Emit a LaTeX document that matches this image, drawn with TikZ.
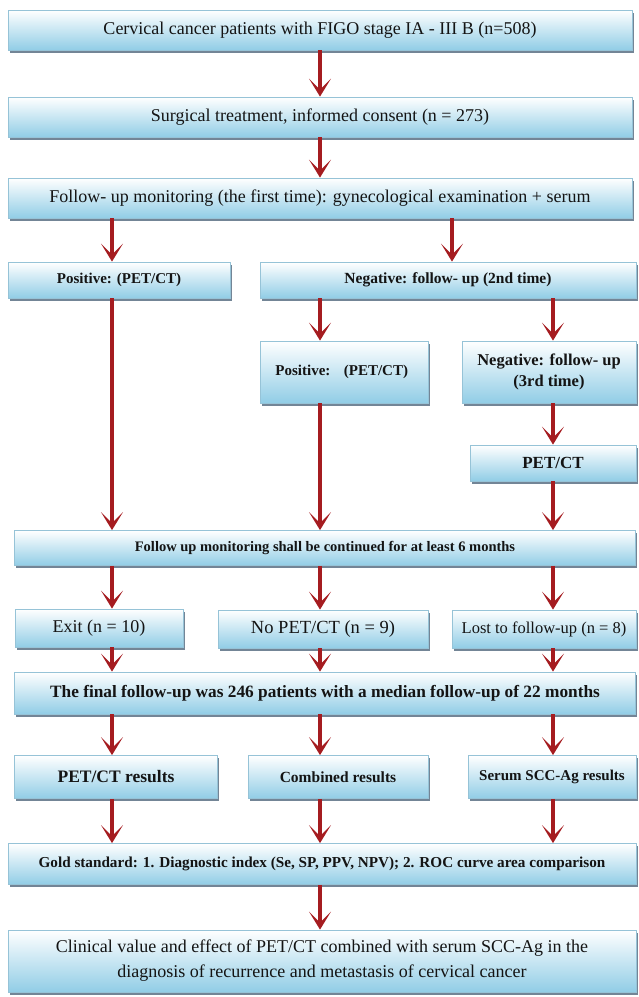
\documentclass[tikz,border=0pt]{standalone}
\usepackage{fontspec}
\setmainfont{Liberation Serif}
\usetikzlibrary{arrows.meta,shadows}
\definecolor{boxblue}{RGB}{145,205,230}
\definecolor{boxline}{RGB}{150,195,215}
\definecolor{boxshade}{RGB}{90,112,132}
\definecolor{arrowred}{RGB}{165,28,32}
\definecolor{textdark}{RGB}{20,20,20}
\tikzset{
  flowbox/.style={draw=boxline, line width=0.8pt, top color=white, bottom color=boxblue,
    text=textdark, align=center, inner sep=2pt,
    drop shadow={shadow xshift=1.5pt, shadow yshift=-2.5pt, fill=boxshade, opacity=0.85}},
  flowarrow/.style={draw=arrowred, line width=4.5pt,
    -{Stealth[length=18pt,width=22pt,inset=11pt]}}
}
\begin{document}
\begin{tikzpicture}[x=1pt,y=-1pt]
\useasboundingbox (0,0) rectangle (638,997);
% arrow columns
\coordinate (colA) at (112,0);
\coordinate (colB) at (320,0);
\coordinate (colC) at (553,0);
\coordinate (colD) at (452,0);

% top part
\node[flowbox, minimum width=624pt, minimum height=40pt, font=\fontsize{18}{20}\selectfont] (start) at (320,30)
  {Cervical cancer patients with FIGO stage IA - III B (n=508)};
\node[flowbox, minimum width=624pt, minimum height=40pt, font=\fontsize{18}{20}\selectfont] (surg) at (320,117)
  {Surgical treatment, informed consent (n = 273)};
\node[flowbox, minimum width=624pt, minimum height=40pt, font=\fontsize{18}{20}\selectfont] (fu1) at (320,198)
  {Follow- up monitoring (the first time): gynecological examination + serum};

% first split
\node[flowbox, minimum width=222pt, minimum height=36pt, font=\bfseries\fontsize{15}{17}\selectfont] (pos1) at (119,280)
  {Positive: (PET/CT)};
\node[flowbox, minimum width=376pt, minimum height=36pt, font=\bfseries\fontsize{15.5}{17}\selectfont] (neg2) at (448,280)
  {Negative: follow- up (2nd time)};
\node[flowbox, minimum width=168pt, minimum height=62pt, font=\bfseries\fontsize{15}{17}\selectfont] (pos2) at (344,372)
  {Positive:\hspace{0.9em}(PET/CT)\hspace{0.3em}};
\node[flowbox, minimum width=174pt, minimum height=62pt, font=\bfseries\fontsize{16.5}{21}\selectfont] (neg3) at (549,372)
  {Negative: follow- up\\(3rd time)};
\node[flowbox, minimum width=166pt, minimum height=36pt, font=\bfseries\fontsize{17}{19}\selectfont] (petct) at (553,463)
  {PET/CT};

% six months
\node[flowbox, minimum width=621pt, minimum height=35pt, font=\bfseries\fontsize{14.5}{16}\selectfont] (fu6) at (325,548)
  {Follow up monitoring shall be continued for at least 6 months};
\node[flowbox, minimum width=168pt, minimum height=38pt, font=\fontsize{18}{20}\selectfont] (exit) at (99,628)
  {Exit (n = 10)};
\node[flowbox, minimum width=210pt, minimum height=38pt, font=\fontsize{18.5}{20}\selectfont] (nopet) at (323,629)
  {No PET/CT (n = 9)};
\node[flowbox, minimum width=184pt, minimum height=38pt, font=\fontsize{16.5}{18}\selectfont] (lost) at (544,629)
  {Lost to follow-up (n = 8)};
\node[flowbox, minimum width=621pt, minimum height=42pt, font=\bfseries\fontsize{17.3}{19}\selectfont] (final) at (325,693)
  {The final follow-up was 246 patients with a median follow-up of 22 months};

% results
\node[flowbox, minimum width=203pt, minimum height=43pt, font=\bfseries\fontsize{17.5}{19}\selectfont] (respet) at (116,777)
  {PET/CT results};
\node[flowbox, minimum width=180pt, minimum height=43pt, font=\bfseries\fontsize{15.5}{17}\selectfont] (comb) at (338,777)
  {Combined results};
\node[flowbox, minimum width=168pt, minimum height=43pt, font=\bfseries\fontsize{15}{17}\selectfont] (serum) at (552,777)
  {Serum SCC-Ag results};
\node[flowbox, minimum width=628pt, minimum height=41pt, font=\bfseries\fontsize{15.2}{17}\selectfont] (gold) at (322,864)
  {Gold standard: 1. Diagnostic index (Se, SP, PPV, NPV); 2. ROC curve area comparison};
\node[flowbox, minimum width=628pt, minimum height=62pt, font=\fontsize{18}{25}\selectfont] (concl) at (322,961)
  {Clinical value and effect of PET/CT combined with serum SCC-Ag in the\\diagnosis of recurrence and metastasis of cervical cancer};

% arrows
\draw[flowarrow] (start.south -| colB) -- (surg.north -| colB);
\draw[flowarrow] (surg.south -| colB) -- (fu1.north -| colB);
\draw[flowarrow] (fu1.south -| colA) -- (pos1.north -| colA);
\draw[flowarrow] (fu1.south -| colD) -- (neg2.north -| colD);
\draw[flowarrow] (neg2.south -| colB) -- (pos2.north -| colB);
\draw[flowarrow] (neg2.south -| colC) -- (neg3.north -| colC);
\draw[flowarrow] (neg3.south -| colC) -- (petct.north -| colC);
\draw[flowarrow] (pos1.south -| colA) -- (fu6.north -| colA);
\draw[flowarrow] (pos2.south -| colB) -- (fu6.north -| colB);
\draw[flowarrow] (petct.south -| colC) -- (fu6.north -| colC);
\draw[flowarrow] (fu6.south -| colA) -- (exit.north -| colA);
\draw[flowarrow] (fu6.south -| colB) -- (nopet.north -| colB);
\draw[flowarrow] (fu6.south -| colC) -- (lost.north -| colC);
\draw[flowarrow] (exit.south -| colA) -- (final.north -| colA);
\draw[flowarrow] (nopet.south -| colB) -- (final.north -| colB);
\draw[flowarrow] (lost.south -| colC) -- (final.north -| colC);
\draw[flowarrow] (final.south -| colA) -- (respet.north -| colA);
\draw[flowarrow] (final.south -| colB) -- (comb.north -| colB);
\draw[flowarrow] (final.south -| colC) -- (serum.north -| colC);
\draw[flowarrow] (respet.south -| colA) -- (gold.north -| colA);
\draw[flowarrow] (comb.south -| colB) -- (gold.north -| colB);
\draw[flowarrow] (serum.south -| colC) -- (gold.north -| colC);
\draw[flowarrow] (gold.south -| colB) -- (concl.north -| colB);
\end{tikzpicture}
\end{document}
